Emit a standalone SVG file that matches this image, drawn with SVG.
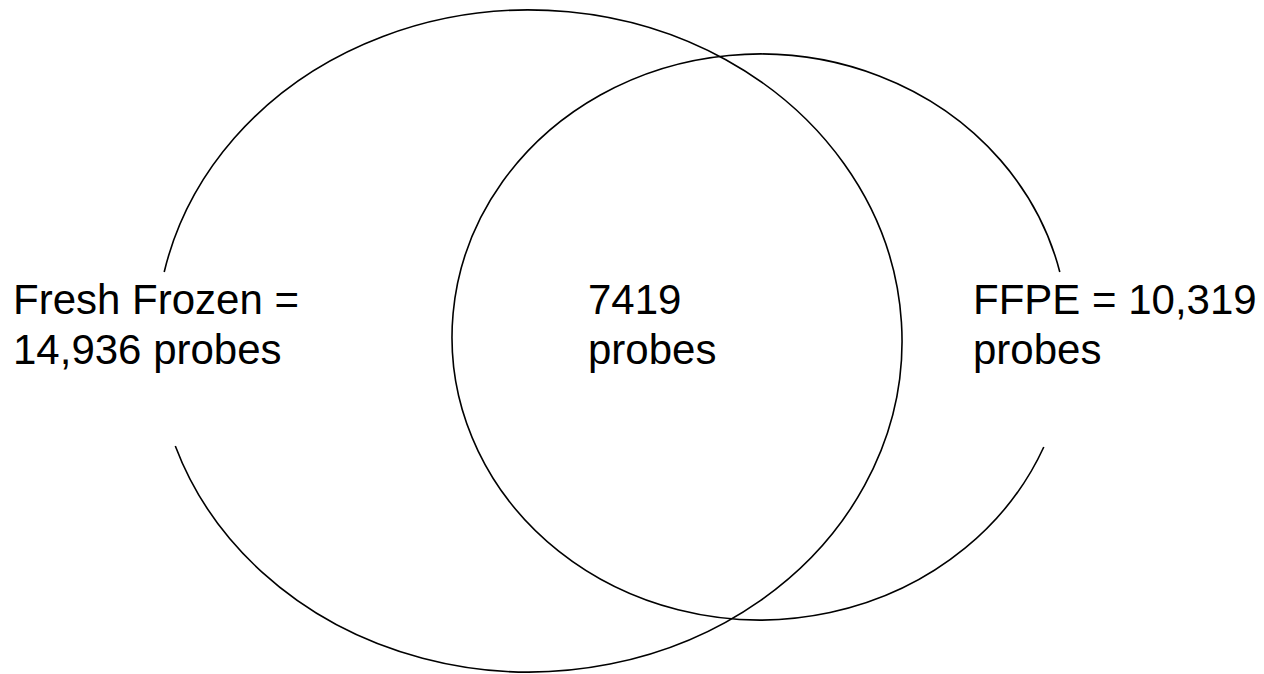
<svg xmlns="http://www.w3.org/2000/svg" width="1264" height="674" viewBox="0 0 1264 674">
  <style>
    .set { fill: none; stroke: #000; stroke-width: 1.6; }
    .label { font-family: "Liberation Sans", Arial, sans-serif; font-size: 42px; fill: #000; }
  </style>
  <rect width="1264" height="674" fill="#fff"/>
  <g id="connectors"/>
  <!-- Fresh Frozen set: ellipse with a gap on the left where its label sits -->
  <g id="fresh-frozen">
    <path class="set" d="M 164.2 272 A 373 331 0 1 1 175.3 446"/>
    <text class="label" x="13" y="314">Fresh Frozen =</text>
    <text class="label" x="13" y="364">14,936 probes</text>
  </g>
  <!-- FFPE set: ellipse with a gap on the right where its label sits -->
  <g id="ffpe">
    <path class="set" d="M 1043.8 447 A 308 283 0 1 1 1059.8 272"/>
    <text class="label" x="973" y="314">FFPE = 10,319</text>
    <text class="label" x="973" y="364">probes</text>
  </g>
  <!-- overlap count -->
  <g id="overlap">
    <text class="label" x="588" y="314">7419</text>
    <text class="label" x="588" y="364">probes</text>
  </g>
</svg>
